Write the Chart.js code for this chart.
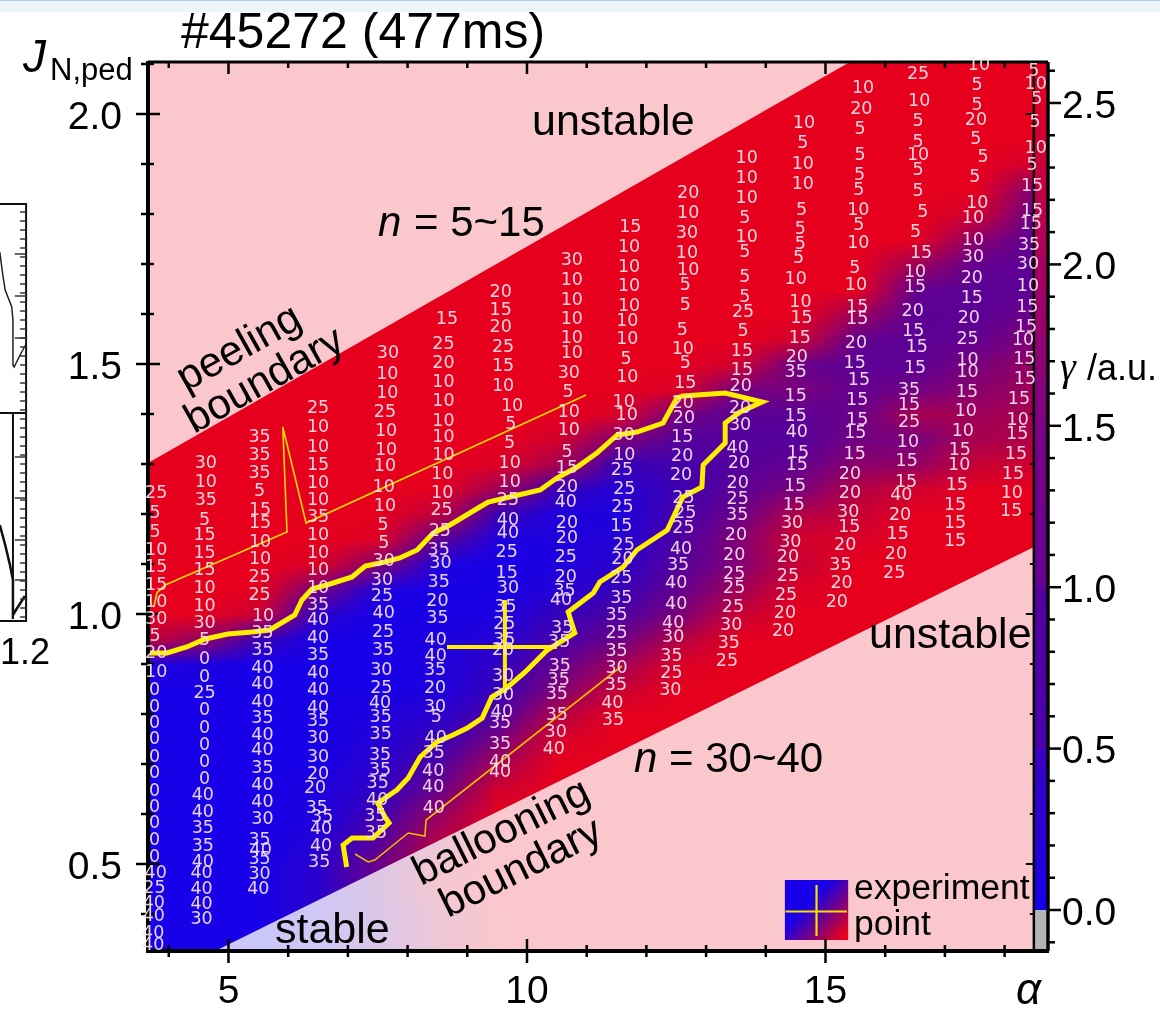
<!DOCTYPE html>
<html>
<head>
<meta charset="utf-8">
<title>#45272 (477ms)</title>
<script src="https://cdn.jsdelivr.net/npm/chart.js@4/dist/chart.umd.min.js"></script>
<style>
  html, body { margin: 0; padding: 0; background: linear-gradient(#ffffff 45%, #fafafa); }
  #strip { position: absolute; left: 0; top: 0; width: 1160px; height: 12px; background: #edf5f8; border-top: 1px solid #a9d3e0; box-sizing: border-box; }
  #wrap { position: absolute; left: 0; top: 0; width: 1160px; height: 1009px; }
</style>
</head>
<body>
<div id="strip"></div>
<div id="wrap"><canvas id="chart" width="1160" height="1009"></canvas></div>
<script>
// axis ticks
const alphaTicks = [4, 5, 6, 7, 8, 9, 10, 11, 12, 13, 14, 15, 16, 17, 18];
const alphaLabels = [5, 10, 15];
const jTicks = [0.4, 0.5, 0.6, 0.7, 0.8, 0.9, 1.0, 1.1, 1.2, 1.3, 1.4, 1.5, 1.6, 1.7, 1.8, 1.9, 2.0, 2.1];
const jLabels = [0.5, 1.0, 1.5, 2.0];
const gammaTicks = [-0.1, 0, 0.1, 0.2, 0.3, 0.4, 0.5, 0.6, 0.7, 0.8, 0.9, 1.0, 1.1, 1.2, 1.3, 1.4, 1.5, 1.6, 1.7, 1.8, 1.9, 2.0, 2.1, 2.2, 2.3, 2.4, 2.5, 2.6];
const gammaLabels = [0, 0.5, 1.0, 1.5, 2.0, 2.5];

// growth rate, one row per J from 2.10 down to 0.30 (step 0.05),
// columns are alpha 3.5, 4.5 ... 18.5
const heatAlpha = [3.5, 4.5, 5.5, 6.5, 7.5, 8.5, 9.5, 10.5, 11.5, 12.5, 13.5, 14.5, 15.5, 16.5, 17.5, 18.5];
const heatRows = [
  [2.5,2.5,2.5,2.5,2.5,2.5,2.5,2.5,2.5,2.5,2.5,2.5,2.5,2.5,2.5,2.5],
  [2.5,2.5,2.5,2.5,2.5,2.5,2.5,2.5,2.5,2.5,2.5,2.5,2.5,2.5,2.5,2.5],
  [2.5,2.5,2.5,2.5,2.5,2.5,2.5,2.5,2.5,2.5,2.5,2.5,2.5,2.5,2.5,2.5],
  [2.5,2.5,2.5,2.5,2.5,2.5,2.5,2.5,2.5,2.5,2.5,2.5,2.5,2.5,2.5,2.5],
  [2.5,2.5,2.5,2.5,2.5,2.5,2.5,2.5,2.5,2.5,2.5,2.5,2.5,2.5,2.5,2.3],
  [2.5,2.5,2.5,2.5,2.5,2.5,2.5,2.5,2.5,2.5,2.5,2.5,2.5,2.5,2.5,1.5],
  [2.5,2.5,2.5,2.5,2.5,2.5,2.5,2.5,2.5,2.5,2.5,2.5,2.5,2.5,2.3,1.1],
  [2.5,2.5,2.5,2.5,2.5,2.5,2.5,2.5,2.5,2.5,2.5,2.5,2.5,2.5,1.6,1.0],
  [2.5,2.5,2.5,2.5,2.5,2.5,2.5,2.5,2.5,2.5,2.5,2.5,2.5,1.8,1.1,1.0],
  [2.5,2.5,2.5,2.5,2.5,2.5,2.5,2.5,2.5,2.5,2.5,2.5,2.5,1.1,1.0,1.0],
  [2.5,2.5,2.5,2.5,2.5,2.5,2.5,2.5,2.5,2.5,2.5,2.5,1.8,1.0,1.0,1.2],
  [2.5,2.5,2.5,2.5,2.5,2.5,2.5,2.5,2.5,2.5,2.5,2.3,1.1,1.0,1.1,1.5],
  [2.5,2.5,2.5,2.5,2.5,2.5,2.5,2.5,2.5,2.5,2.3,1.2,1.0,1.0,1.4,1.7],
  [2.5,2.5,2.5,2.5,2.5,2.5,2.5,2.5,2.5,2.4,1.3,1.4,1.1,1.3,1.6,1.8],
  [2.5,2.5,2.5,2.5,2.5,2.5,2.5,2.5,2.4,1.3,1.0,1.0,1.2,1.9,1.8,1.9],
  [2.5,2.5,2.5,2.5,2.5,2.5,2.5,2.3,1.5,0.9,0.9,0.9,1.3,1.4,1.9,2.0],
  [2.5,2.5,2.5,2.5,2.5,2.5,2.4,1.9,0.5,0.7,0.9,1.1,1.6,1.7,2.2,2.3],
  [2.5,2.5,2.5,2.5,2.5,2.5,1.8,0.5,0.2,0.6,1.0,1.4,2.0,2.3,2.5,2.5],
  [2.5,2.5,2.5,2.5,2.5,2.1,0.5,0.1,0.1,0.7,1.2,2.0,2.2,2.5,2.5,2.5],
  [2.5,2.5,2.5,2.5,2.4,1.0,0.1,0.1,0.2,0.8,1.5,2.3,2.4,2.5,2.5,2.5],
  [2.5,2.5,2.5,2.4,1.5,0.1,0.0,0.1,0.3,0.9,1.5,2.2,2.5,2.5,2.5,2.5],
  [2.5,2.5,2.5,1.3,0.1,0.0,0.0,0.2,0.5,1.1,1.8,2.4,2.5,2.5,2.5,2.5],
  [2.5,2.5,2.2,0.3,0.0,0.0,0.1,0.5,0.8,1.4,2.2,2.5,2.5,2.5,2.5,2.5],
  [2.2,1.7,0.5,0.0,0.0,0.1,0.2,0.7,1.2,2.0,2.5,2.5,2.5,2.5,2.5,2.5],
  [0.1,0.1,0.0,0.0,0.0,0.1,0.4,1.1,1.8,2.4,2.5,2.5,2.5,2.5,2.5,2.5],
  [0.0,0.0,0.0,0.0,0.0,0.1,0.5,1.5,2.2,2.5,2.5,2.5,2.5,2.5,2.5,2.5],
  [0.0,0.0,0.0,0.0,0.1,0.3,0.8,2.0,2.5,2.5,2.5,2.5,2.5,2.5,2.5,2.5],
  [0.0,0.0,0.0,0.0,0.2,0.5,1.4,2.4,2.5,2.5,2.5,2.5,2.5,2.5,2.5,2.5],
  [0.0,0.0,0.0,0.0,0.3,0.8,1.9,2.5,2.5,2.5,2.5,2.5,2.5,2.5,2.5,2.5],
  [0.0,0.0,0.0,0.1,0.4,1.2,2.3,2.5,2.5,2.5,2.5,2.5,2.5,2.5,2.5,2.5],
  [0.0,0.0,0.0,0.1,0.6,1.7,2.5,2.5,2.5,2.5,2.5,2.5,2.5,2.5,2.5,2.5],
  [0.0,0.0,0.0,0.2,0.9,2.0,2.5,2.5,2.5,2.5,2.5,2.5,2.5,2.5,2.5,2.5],
  [0.0,0.0,0.0,0.3,1.2,2.2,2.5,2.5,2.5,2.5,2.5,2.5,2.5,2.5,2.5,2.5],
  [0.0,0.0,0.0,0.3,1.2,2.3,2.5,2.5,2.5,2.5,2.5,2.5,2.5,2.5,2.5,2.5],
  [0.0,0.0,0.0,0.3,1.0,2.0,2.5,2.5,2.5,2.5,2.5,2.5,2.5,2.5,2.5,2.5],
  [0.0,0.0,0.0,0.3,1.0,2.0,2.5,2.5,2.5,2.5,2.5,2.5,2.5,2.5,2.5,2.5],
  [0.0,0.0,0.0,0.3,1.0,2.0,2.5,2.5,2.5,2.5,2.5,2.5,2.5,2.5,2.5,2.5],
];

// unstable band between peeling and ballooning boundaries
const bandAlpha = [3.65, 15.41, 18.49, 18.49, 4.81, 3.65];
const bandJ = [1.302, 2.104, 2.104, 1.134, 0.328, 0.328];

// yellow stability contour
const contourAlpha = [3.65,3.97,4.30,4.61,4.99,5.39,5.69,6.11,6.23,6.40,6.70,7.07,7.29,7.62,7.87,8.16,8.43,8.71,9.21,9.35,9.71,10.22,10.50,10.84,11.17,11.51,11.84,12.28,12.51,12.61,13.32,13.94,13.57,13.32,13.32,12.95,12.93,12.61,12.35,11.84,11.61,11.22,11.11,10.69,10.80,10.34,9.97,9.66,9.41,9.25,9.00,8.76,8.49,8.21,8.01,7.82,7.50,7.62,7.69,7.42,7.07,6.92,6.98];
const contourJ = [0.922,0.922,0.934,0.95,0.96,0.964,0.968,0.998,1.028,1.05,1.06,1.074,1.096,1.104,1.112,1.128,1.162,1.178,1.214,1.224,1.234,1.248,1.272,1.294,1.322,1.358,1.364,1.382,1.432,1.436,1.442,1.424,1.404,1.382,1.342,1.298,1.254,1.234,1.168,1.128,1.094,1.064,1.042,1.004,0.962,0.928,0.884,0.852,0.834,0.792,0.772,0.758,0.744,0.714,0.672,0.648,0.622,0.594,0.582,0.552,0.552,0.538,0.494];

// thin boundary traces
const upperTraceAlpha = [3.75, 3.80, 3.94, 5.98, 5.91, 6.30, 10.99];
const upperTraceJ = [1.014, 1.042, 1.058, 1.164, 1.374, 1.182, 1.438];
const lowerTraceAlpha = [7.12, 7.34, 7.45, 8.01, 8.29, 8.31, 11.59];
const lowerTraceJ = [0.52, 0.504, 0.508, 0.562, 0.556, 0.588, 0.896];

// experiment point with error bars
const pointAlpha = 9.63;
const pointJ = 0.934;
const errAlpha = [8.66, 10.50];
const errJ = [0.842, 1.028];

// toroidal mode numbers printed on the map, by column
const col01N = [25,5,5,10,15,15,10,30,5,20,10,0,0,0,0,0,0,0,0,0,0,0,40,25,40,40,40,40];
const col01J = [1.242,1.202,1.164,1.128,1.094,1.058,1.024,0.99,0.956,0.922,0.884,0.848,0.814,0.782,0.75,0.714,0.682,0.646,0.614,0.582,0.548,0.514,0.482,0.452,0.422,0.396,0.362,0.338];
const col01A = [3.79,3.77,3.77,3.79,3.79,3.79,3.79,3.79,3.77,3.79,3.79,3.76,3.76,3.76,3.76,3.76,3.76,3.76,3.76,3.76,3.76,3.76,3.78,3.76,3.75,3.75,3.74,3.74];
const col02N = [30,10,35,5,15,15,15,10,10,30,5,0,0,25,0,0,0,0,0,40,40,35,35,40,40,40,40,30];
const col02J = [1.302,1.264,1.228,1.188,1.158,1.122,1.088,1.052,1.016,0.982,0.948,0.91,0.874,0.842,0.808,0.772,0.738,0.704,0.67,0.638,0.604,0.572,0.536,0.504,0.482,0.45,0.42,0.39];
const col02A = [4.62,4.62,4.62,4.6,4.6,4.6,4.6,4.6,4.6,4.6,4.6,4.6,4.6,4.6,4.6,4.6,4.6,4.6,4.6,4.57,4.57,4.57,4.57,4.57,4.55,4.55,4.55,4.55];
const col03N = [35,35,35,5,15,15,10,10,25,25,10,35,35,40,40,40,35,40,40,35,40,40,30,35,40,35,30,40];
const col03J = [1.354,1.318,1.282,1.246,1.208,1.182,1.144,1.11,1.074,1.038,0.996,0.962,0.928,0.892,0.86,0.824,0.792,0.758,0.728,0.692,0.658,0.624,0.59,0.548,0.528,0.51,0.48,0.45];
const col03A = [5.52,5.52,5.52,5.52,5.53,5.53,5.53,5.53,5.52,5.52,5.58,5.57,5.57,5.57,5.57,5.57,5.57,5.57,5.57,5.57,5.57,5.57,5.57,5.52,5.54,5.52,5.52,5.5];
const col04N = [25,10,10,15,10,10,35,10,10,10,10,35,40,40,35,40,40,40,35,30,30,20,20,35,35,40,40,35];
const col04J = [1.412,1.374,1.334,1.298,1.262,1.228,1.194,1.158,1.122,1.088,1.052,1.018,0.988,0.952,0.918,0.882,0.848,0.812,0.786,0.752,0.714,0.68,0.652,0.612,0.594,0.57,0.536,0.504];
const col04A = [6.5,6.5,6.5,6.5,6.5,6.5,6.5,6.5,6.5,6.5,6.5,6.5,6.5,6.5,6.5,6.5,6.5,6.5,6.5,6.5,6.5,6.5,6.45,6.48,6.57,6.55,6.55,6.52];
const col05N = [30,10,10,25,10,10,10,10,10,5,5,30,30,25,40,25,35,30,25,40,35,35,35,35,35,40,35,35];
const col05J = [1.522,1.48,1.442,1.404,1.366,1.328,1.296,1.254,1.216,1.178,1.142,1.106,1.068,1.036,1.002,0.964,0.928,0.888,0.852,0.822,0.794,0.76,0.718,0.688,0.662,0.628,0.596,0.562];
const col05A = [7.67,7.66,7.66,7.62,7.64,7.64,7.62,7.6,7.62,7.59,7.6,7.6,7.57,7.57,7.6,7.59,7.59,7.56,7.56,7.54,7.55,7.55,7.54,7.54,7.5,7.49,7.46,7.47];
const col06N = [15,25,20,10,10,10,10,10,10,10,25,25,35,30,35,20,35,40,40,35,20,30,5,40,35,40,40,40];
const col06J = [1.59,1.54,1.502,1.464,1.426,1.386,1.354,1.318,1.28,1.242,1.208,1.166,1.128,1.102,1.064,1.026,0.992,0.948,0.916,0.888,0.852,0.814,0.794,0.752,0.722,0.686,0.654,0.612];
const col06A = [8.66,8.6,8.6,8.6,8.6,8.6,8.6,8.6,8.58,8.58,8.57,8.54,8.52,8.55,8.52,8.5,8.5,8.47,8.47,8.46,8.46,8.46,8.48,8.47,8.44,8.43,8.43,8.44];
const col07N = [20,15,20,25,15,10,10,5,5,10,10,25,40,40,25,15,30,35,25,35,20,30,30,40,35,35,40,40];
const col07J = [1.644,1.608,1.574,1.534,1.496,1.456,1.416,1.38,1.342,1.302,1.264,1.228,1.188,1.162,1.124,1.082,1.052,1.014,0.98,0.948,0.928,0.876,0.838,0.804,0.782,0.74,0.704,0.684];
const col07A = [9.56,9.56,9.56,9.6,9.6,9.6,9.75,9.73,9.71,9.71,9.71,9.68,9.68,9.68,9.66,9.66,9.68,9.64,9.62,9.62,9.6,9.6,9.6,9.58,9.55,9.55,9.55,9.55];
const col08N = [30,10,10,10,10,10,30,5,10,10,5,15,20,40,20,20,25,20,35,40,35,35,35,35,35,35,30,40];
const col08J = [1.708,1.668,1.628,1.59,1.552,1.522,1.482,1.444,1.404,1.368,1.324,1.292,1.254,1.224,1.182,1.152,1.114,1.074,1.046,1.028,0.972,0.944,0.896,0.868,0.84,0.798,0.764,0.73];
const col08A = [10.75,10.75,10.75,10.75,10.75,10.75,10.7,10.69,10.7,10.7,10.67,10.67,10.67,10.65,10.67,10.67,10.65,10.65,10.63,10.57,10.59,10.54,10.55,10.53,10.5,10.5,10.48,10.45];
const col09N = [15,10,10,10,10,10,10,5,10,10,10,30,10,25,25,25,15,25,20,25,35,35,25,35,30,35,40,35];
const col09J = [1.774,1.734,1.694,1.656,1.616,1.586,1.55,1.51,1.474,1.424,1.398,1.358,1.318,1.288,1.25,1.214,1.176,1.138,1.11,1.072,1.032,0.998,0.962,0.926,0.892,0.858,0.822,0.788];
const col09A = [11.73,11.71,11.71,11.71,11.71,11.68,11.68,11.66,11.68,11.62,11.67,11.62,11.63,11.59,11.63,11.6,11.58,11.62,11.6,11.58,11.58,11.5,11.5,11.5,11.5,11.49,11.43,11.44];
const col10N = [20,10,30,10,10,5,5,5,10,5,15,20,20,15,20,20,25,25,25,40,35,40,40,40,30,35,25,30];
const col10J = [1.842,1.802,1.762,1.722,1.688,1.658,1.618,1.568,1.53,1.502,1.462,1.422,1.392,1.354,1.316,1.278,1.232,1.202,1.172,1.13,1.098,1.062,1.02,0.982,0.954,0.916,0.882,0.848];
const col10A = [12.7,12.7,12.68,12.68,12.7,12.65,12.65,12.6,12.61,12.65,12.65,12.61,12.63,12.6,12.6,12.58,12.62,12.65,12.62,12.58,12.53,12.5,12.5,12.45,12.45,12.42,12.42,12.4];
const col11N = [10,10,10,5,10,5,5,5,25,5,15,15,20,20,30,40,20,20,25,35,20,20,25,25,25,30,35,25];
const col11J = [1.912,1.872,1.832,1.792,1.754,1.724,1.674,1.634,1.604,1.566,1.526,1.488,1.456,1.412,1.378,1.332,1.302,1.262,1.23,1.198,1.158,1.118,1.08,1.052,1.014,0.978,0.942,0.906];
const col11A = [13.68,13.68,13.68,13.65,13.68,13.65,13.65,13.65,13.62,13.62,13.6,13.6,13.58,13.57,13.57,13.53,13.55,13.53,13.53,13.52,13.5,13.47,13.47,13.47,13.45,13.42,13.38,13.35];
const col12N = [10,5,10,10,5,5,5,5,10,10,15,15,20,35,15,15,40,15,15,15,15,30,30,20,25,25,20,20];
const col12J = [1.982,1.942,1.9,1.86,1.808,1.77,1.74,1.712,1.67,1.624,1.592,1.552,1.514,1.484,1.436,1.396,1.364,1.322,1.298,1.256,1.218,1.182,1.144,1.114,1.076,1.038,1.002,0.966];
const col12A = [14.64,14.62,14.62,14.62,14.6,14.58,14.58,14.55,14.5,14.58,14.6,14.57,14.52,14.5,14.5,14.5,14.52,14.54,14.52,14.49,14.47,14.44,14.41,14.37,14.37,14.34,14.32,14.29];
const col13N = [10,20,5,5,5,5,10,5,10,5,10,15,15,20,15,15,15,15,15,15,20,20,30,15,20,35,20,20];
const col13J = [2.052,2.01,1.97,1.918,1.878,1.848,1.808,1.778,1.742,1.692,1.658,1.614,1.59,1.542,1.502,1.468,1.428,1.388,1.362,1.32,1.28,1.242,1.204,1.174,1.138,1.098,1.062,1.024];
const col13A = [15.63,15.6,15.58,15.58,15.57,15.56,15.55,15.56,15.55,15.49,15.51,15.53,15.53,15.51,15.49,15.56,15.53,15.53,15.5,15.49,15.41,15.41,15.38,15.4,15.33,15.25,15.27,15.19];
const col14N = [25,10,5,5,10,5,5,5,5,15,10,15,20,15,15,15,35,15,25,10,15,15,40,20,15,20,25];
const col14J = [2.08,2.026,1.986,1.944,1.918,1.888,1.846,1.804,1.764,1.722,1.684,1.654,1.606,1.566,1.534,1.492,1.448,1.418,1.384,1.344,1.306,1.264,1.238,1.198,1.16,1.12,1.082];
const col14A = [16.55,16.57,16.55,16.55,16.55,16.55,16.55,16.63,16.51,16.6,16.5,16.5,16.46,16.47,16.53,16.5,16.4,16.4,16.4,16.38,16.36,16.35,16.27,16.25,16.21,16.18,16.15];
const col15N = [10,5,5,20,5,5,5,10,10,10,30,20,15,20,25,10,10,15,10,10,15,10,15,15,15,15];
const col15J = [2.098,2.058,2.018,1.988,1.95,1.914,1.874,1.822,1.792,1.748,1.714,1.672,1.632,1.592,1.55,1.508,1.484,1.444,1.406,1.366,1.328,1.298,1.258,1.218,1.182,1.146];
const col15A = [17.57,17.54,17.54,17.52,17.52,17.64,17.5,17.54,17.47,17.47,17.47,17.45,17.45,17.4,17.38,17.38,17.38,17.37,17.35,17.3,17.25,17.24,17.2,17.17,17.17,17.17];
const col16N = [5,10,5,5,10,5,15,15,15,35,30,10,15,15,10,15,15,15,10,15,15,15,10,15];
const col16J = [2.086,2.06,2.03,1.984,1.932,1.898,1.856,1.806,1.78,1.738,1.7,1.656,1.614,1.574,1.548,1.51,1.47,1.43,1.388,1.36,1.32,1.28,1.242,1.206];
const col16A = [18.49,18.52,18.54,18.51,18.52,18.46,18.46,18.46,18.44,18.41,18.39,18.39,18.38,18.36,18.31,18.33,18.34,18.24,18.22,18.21,18.19,18.14,18.12,18.11];
const modeColumns = [
  [col01N, col01J, col01A], [col02N, col02J, col02A], [col03N, col03J, col03A], [col04N, col04J, col04A],
  [col05N, col05J, col05A], [col06N, col06J, col06A], [col07N, col07J, col07A], [col08N, col08J, col08A],
  [col09N, col09J, col09A], [col10N, col10J, col10A], [col11N, col11J, col11A], [col12N, col12J, col12A],
  [col13N, col13J, col13A], [col14N, col14J, col14A], [col15N, col15J, col15A], [col16N, col16J, col16A],
];

// the bit of the neighbouring panel that shows at the left edge of the figure
const nbFrameAlpha = [1.17, 1.61, 1.61, 1.17];
const nbFrameJ = [1.82, 1.82, 0.986, 0.986];
const nbInnerAlpha = [1.17, 1.61, 1.39, 1.39];
const nbInnerJ = [1.402, 1.402, 1.402, 0.99];
const nbCurve1Alpha = [1.17, 1.22, 1.26, 1.37, 1.39, 1.39, 1.41, 1.51, 1.6];
const nbCurve1J = [1.724, 1.678, 1.648, 1.614, 1.588, 1.498, 1.494, 1.518, 1.538];
const nbCurve2Alpha = [1.17, 1.26, 1.34, 1.39, 1.39, 1.44, 1.59];
const nbCurve2J = [1.178, 1.138, 1.098, 1.068, 0.998, 1.008, 1.036];
const nbTickJ = [1.804,1.786,1.768,1.75,1.732,1.714,1.696,1.678,1.66,1.642,1.624,1.606,1.588,1.57,1.552,1.534,1.516,1.498,1.48,1.462,1.444,1.426,1.408,1.39,1.372,1.354,1.336,1.318,1.3,1.282,1.264,1.246,1.228,1.21,1.192,1.174,1.156,1.138,1.12,1.102,1.084,1.066,1.048,1.03,1.012,0.994];
const nbLongTickJ = [1.72, 1.636, 1.552, 1.314, 1.232, 1.148, 1.068];

const heatStops = [[0, 24, 0, 232], [0.5, 55, 0, 185], [1, 92, 0, 150], [1.5, 128, 0, 118], [2, 178, 0, 70], [2.5, 230, 0, 30]];

function heatColor(v) {
  for (let i = 1; i < heatStops.length; i++) {
    if (v <= heatStops[i][0]) {
      const a = heatStops[i - 1], b = heatStops[i];
      const t = (v - a[0]) / (b[0] - a[0]);
      return [1, 2, 3].map((k) => a[k] + (b[k] - a[k]) * t);
    }
  }
  return heatStops[heatStops.length - 1].slice(1);
}

// small image, one pixel per matrix cell. Upscaling smooths it
function buildHeat() {
  const c = document.createElement("canvas");
  c.width = heatAlpha.length;
  c.height = heatRows.length;
  const g = c.getContext("2d");
  const img = g.createImageData(c.width, c.height);
  heatRows.forEach((row, r) => {
    row.forEach((v, i) => {
      const col = heatColor(v);
      const p = (r * c.width + i) * 4;
      img.data[p] = col[0];
      img.data[p + 1] = col[1];
      img.data[p + 2] = col[2];
      img.data[p + 3] = 255;
    });
  });
  g.putImageData(img, 0, 0);
  return c;
}
const heatImage = buildHeat();

const SANS = '"Liberation Sans", Arial, sans-serif';

function xy(xs, ys) {
  return xs.map((x, i) => ({ x: x, y: ys[i] }));
}

function traceSet(xs, ys, color, width) {
  return { type: "scatter", showLine: true, data: xy(xs, ys), borderColor: color, borderWidth: width, pointRadius: 0, tension: 0, fill: false };
}

const heatPlugin = {
  id: "heat",
  beforeDraw(chart) {
    const ctx = chart.ctx, sx = chart.scales.x, sy = chart.scales.y;
    const left = sx.getPixelForValue(3.652), right = sx.getPixelForValue(18.49);
    const top = sy.top, bottom = sy.bottom;
    const ix = sx.getPixelForValue(3), iw = sx.getPixelForValue(19) - ix;
    const iy = sy.getPixelForValue(2.125), ih = sy.getPixelForValue(0.275) - iy;

    // neighbouring panel, outside the plot area so it goes here and not in datasets
    function poly(xs, ys, color, w) {
      ctx.strokeStyle = color;
      ctx.lineWidth = w;
      ctx.beginPath();
      xs.forEach((a, i) => {
        const px = sx.getPixelForValue(a), py = sy.getPixelForValue(ys[i]);
        if (i === 0) ctx.moveTo(px, py);
        else ctx.lineTo(px, py);
      });
      ctx.stroke();
    }
    poly(nbFrameAlpha, nbFrameJ, "#111", 2);
    poly(nbInnerAlpha, nbInnerJ, "#111", 2);
    poly(nbCurve1Alpha, nbCurve1J, "#222", 1.5);
    poly(nbCurve2Alpha, nbCurve2J, "#111", 2.5);
    nbTickJ.forEach((j) => poly([1.51, 1.61], [j, j], "#333", 1.5));
    nbLongTickJ.forEach((j) => poly([1.42, 1.61], [j, j], "#333", 1.5));

    ctx.save();
    ctx.beginPath();
    ctx.rect(left, top, right - left, bottom - top);
    ctx.clip();
    ctx.fillStyle = "#ffffff";
    ctx.fillRect(left, top, right - left, bottom - top);
    // outside the band the same map is only a pale tint
    ctx.globalAlpha = 0.22;
    ctx.drawImage(heatImage, ix, iy, iw, ih);
    ctx.globalAlpha = 1;
    ctx.beginPath();
    bandAlpha.forEach((a, i) => {
      const px = sx.getPixelForValue(a), py = sy.getPixelForValue(bandJ[i]);
      if (i === 0) ctx.moveTo(px, py);
      else ctx.lineTo(px, py);
    });
    ctx.closePath();
    ctx.clip();
    ctx.drawImage(heatImage, ix, iy, iw, ih);
    ctx.restore();

    // key swatch
    const kx0 = sx.getPixelForValue(14.32), kx1 = sx.getPixelForValue(15.38);
    const ky0 = sy.getPixelForValue(0.468), ky1 = sy.getPixelForValue(0.348);
    const grad = ctx.createLinearGradient(kx0, ky0, kx1, ky1);
    grad.addColorStop(0, "#1800e8");
    grad.addColorStop(0.38, "#1800e8");
    grad.addColorStop(0.62, "#6a0090");
    grad.addColorStop(0.92, "#e6001e");
    grad.addColorStop(1, "#e6001e");
    ctx.fillStyle = grad;
    ctx.fillRect(kx0, ky0, kx1 - kx0, ky1 - ky0);
  },
};

const framePlugin = {
  id: "frame",
  afterDatasetsDraw(chart) {
    const ctx = chart.ctx, sx = chart.scales.x, sy = chart.scales.y, sg = chart.scales.y2;
    const left = chart.chartArea.left, bottom = chart.chartArea.bottom, top = chart.chartArea.top, right = chart.chartArea.right;
    const inner = sx.getPixelForValue(18.49);

    // colour bar
    const barGrad = ctx.createLinearGradient(0, sg.getPixelForValue(0), 0, sg.getPixelForValue(2.627));
    const barSpan = 2.627;
    [[0, "#1400eb"], [0.2, "#2800d8"], [0.499, "#3a00c4"], [0.5, "#4a00ac"], [0.999, "#5400a0"], [1, "#640094"], [1.5, "#7c0084"], [2, "#a80060"], [2.5, "#de0026"], [2.627, "#e6001e"]]
      .forEach((s) => barGrad.addColorStop(s[0] / barSpan, s[1]));
    ctx.fillStyle = barGrad;
    ctx.fillRect(inner, top, right - inner, sg.getPixelForValue(0) - top);
    ctx.fillStyle = "#b4b4b4";
    ctx.fillRect(inner, sg.getPixelForValue(0), right - inner, bottom - sg.getPixelForValue(0));

    ctx.strokeStyle = "#000";
    ctx.lineCap = "butt";
    function line(x0, y0, x1, y1, w) {
      ctx.lineWidth = w;
      ctx.beginPath();
      ctx.moveTo(x0, y0);
      ctx.lineTo(x1, y1);
      ctx.stroke();
    }
    // frame
    line(left, top - 1, left, bottom + 2, 4);
    line(left - 2, bottom, right + 1, bottom, 4);
    line(left, top, right, top, 3);
    line(inner, top, inner, bottom, 2.5);
    line(right, top, right, bottom, 3.5);
    // ticks, both sides
    jTicks.forEach((v) => {
      const y = sy.getPixelForValue(v), major = jLabels.includes(v);
      line(left - (major ? 12 : 7), y, left + (major ? 12 : 6), y, 2.5);
      line(inner - (major ? 8 : 4), y, inner, y, 2);
    });
    alphaTicks.forEach((v) => {
      const x = sx.getPixelForValue(v), major = alphaLabels.includes(v);
      line(x, bottom - (major ? 12 : 6), x, bottom + (major ? 12 : 6), 2.5);
      line(x, top, x, top + (major ? 12 : 6), 2.5);
    });
    gammaTicks.forEach((v) => {
      const y = sg.getPixelForValue(v), major = gammaLabels.includes(v);
      line(right, y, right + (major ? 13 : 7), y, 2.5);
    });

    // mode numbers
    ctx.fillStyle = "rgba(248,228,238,0.92)";
    ctx.font = '17.5px "DejaVu Sans", sans-serif';
    ctx.textAlign = "center";
    ctx.textBaseline = "middle";
    modeColumns.forEach((c) => {
      c[0].forEach((n, i) => {
        ctx.fillText(String(n), sx.getPixelForValue(c[2][i]), sy.getPixelForValue(c[1][i]));
      });
    });

    // annotations
    ctx.fillStyle = "#000";
    ctx.textBaseline = "alphabetic";
    ctx.textAlign = "left";
    function put(str, x, y, font, rot) {
      ctx.save();
      ctx.translate(x, y);
      if (rot) ctx.rotate(rot);
      ctx.font = font;
      ctx.fillText(str, 0, 0);
      ctx.restore();
    }
    put("#45272 (477ms)", 181, 48, "50px " + SANS);
    put("J", 23, 72, "italic 46px " + SANS);
    put("N,ped", 50, 80, "31px " + SANS);
    put("unstable", 532, 135, "43px " + SANS);
    put("unstable", 869, 648, "43px " + SANS);
    put("stable", 275, 943, "43px " + SANS);

    put("n", 378, 236, "italic 42px " + SANS);
    put("= 5~15", 414, 236, "42px " + SANS);
    put("n", 634, 772, "italic 42px " + SANS);
    put("= 30~40", 669, 772, "42px " + SANS);

    put("peeling", 186, 392, "42px " + SANS, -0.51);
    put("boundary", 194, 434, "42px " + SANS, -0.51);
    put("ballooning", 421, 886, "42px " + SANS, -0.46);
    put("boundary", 448, 918, "42px " + SANS, -0.46);

    put("experiment", 854, 899, "35.5px " + SANS);
    put("point", 854, 935, "35.5px " + SANS);
    put("\u03b1", 1016, 1004, "italic 44px " + SANS);
    put("\u03b3", 1060, 380, "italic 40px \"Liberation Serif\", serif");
    put("/a.u.", 1087, 380, "36px " + SANS);
    put("1.2", 0, 664, "36px " + SANS);
  },
};

new Chart(document.getElementById("chart"), {
  data: {
    datasets: [
      traceSet(contourAlpha, contourJ, "#ffee00", 5),
      traceSet(upperTraceAlpha, upperTraceJ, "#f7d900", 1.6),
      traceSet(lowerTraceAlpha, lowerTraceJ, "#f2b800", 1.6),
      traceSet(errAlpha, [pointJ, pointJ], "#ffee00", 4),
      traceSet([pointAlpha, pointAlpha], errJ, "#ffee00", 4),
      traceSet([14.33, 15.36], [0.405, 0.405], "#f5e000", 2.2),
      traceSet([14.85, 14.85], [0.458, 0.356], "#f5e000", 2.2),
    ],
  },
  options: {
    responsive: false,
    animation: false,
    events: [],
    layout: { padding: { top: 62, left: 0, right: 0, bottom: 0 } },
    plugins: { legend: { display: false }, tooltip: { enabled: false } },
    scales: {
      x: {
        type: "linear",
        min: 3.652,
        max: 18.727,
        afterFit(s) { s.height = 58; },
        afterBuildTicks(s) { s.ticks = alphaTicks.map((v) => ({ value: v })); },
        grid: { display: false, drawTicks: false },
        border: { display: false },
        ticks: {
          autoSkip: false, maxRotation: 0, padding: 18, color: "#000",
          font: { family: "Liberation Sans", size: 39 },
          callback: (v) => (alphaLabels.includes(v) ? String(v) : ""),
        },
      },
      y: {
        type: "linear",
        position: "left",
        min: 0.326,
        max: 2.104,
        afterFit(s) { s.width = 148; },
        afterBuildTicks(s) { s.ticks = jTicks.map((v) => ({ value: v })); },
        grid: { display: false, drawTicks: false },
        border: { display: false },
        ticks: {
          autoSkip: false, padding: 26, color: "#000", labelOffset: 4,
          font: { family: "Liberation Sans", size: 39 },
          callback: (v) => (jLabels.includes(v) ? v.toFixed(1) : ""),
        },
      },
      y2: {
        type: "linear",
        position: "right",
        min: -0.127,
        max: 2.627,
        afterFit(s) { s.width = 112; },
        afterBuildTicks(s) { s.ticks = gammaTicks.map((v) => ({ value: v })); },
        grid: { display: false, drawTicks: false },
        border: { display: false },
        ticks: {
          autoSkip: false, padding: 14, color: "#000", labelOffset: 4,
          font: { family: "Liberation Sans", size: 39 },
          callback: (v) => (gammaLabels.includes(v) ? v.toFixed(1) : ""),
        },
      },
    },
  },
  plugins: [heatPlugin, framePlugin],
});
</script>
</body>
</html>
